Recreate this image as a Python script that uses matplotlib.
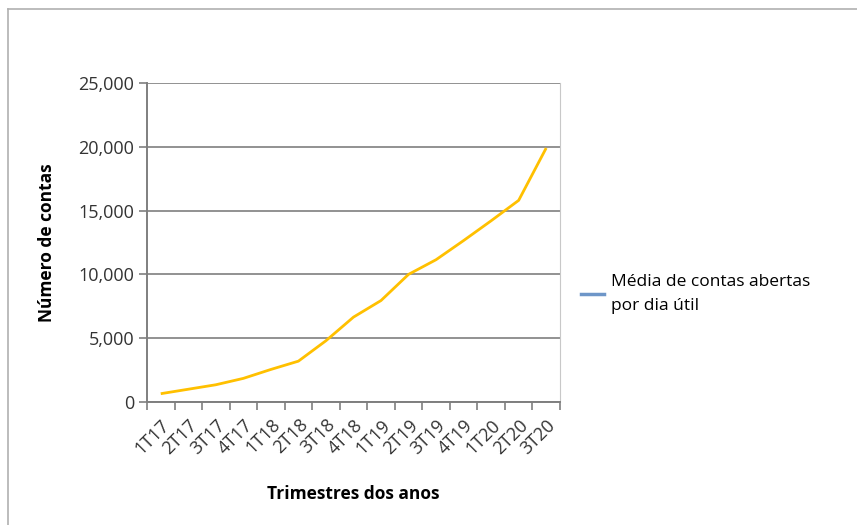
import numpy as np
import matplotlib.pyplot as plt
from matplotlib.lines import Line2D

# data
quarters = ["1T17", "2T17", "3T17", "4T17", "1T18", "2T18", "3T18", "4T18",
            "1T19", "2T19", "3T19", "4T19", "1T20", "2T20", "3T20"]
accounts = [650, 1000, 1350, 1850, 2550, 3200, 4800, 6650,
            7950, 10000, 11150, 12650, 14200, 15800, 19900]
y_ticks = [0, 5000, 10000, 15000, 20000, 25000]

LINE_COLOR = "#FFC000"
LEGEND_COLOR = "#6E96C8"
GRID_COLOR = "#7f7f7f"
FONT = ["Open Sans", "DejaVu Sans"]

plt.rcParams['font.family'] = FONT

fig = plt.figure(figsize=(8.57, 5.25), dpi=100)
ax = fig.add_axes([0.1715, 0.2343, 0.4819, 0.6077])

x = np.arange(len(quarters))
ax.plot(x, accounts, color=LINE_COLOR, linewidth=2.0, solid_capstyle='butt')

ax.set_xlim(-0.5, len(quarters) - 0.5)
ax.set_ylim(0, 25000)
ax.set_yticks(y_ticks)
ax.set_yticklabels([f"{v:,}" for v in y_ticks], fontsize=13, color="#333333")
ax.yaxis.grid(True, color=GRID_COLOR, linewidth=1.2)
ax.set_axisbelow(True)

# category labels at centres, tick marks at boundaries
ax.set_xticks(x)
ax.set_xticklabels(quarters, rotation=45, ha='right', rotation_mode='anchor',
                   fontsize=13, color="#333333")
ax.tick_params(axis='x', which='major', length=0, pad=10)
ax.set_xticks(np.arange(-0.5, len(quarters)), minor=True)
ax.tick_params(axis='x', which='minor', length=6, width=1.2, color=GRID_COLOR)
ax.tick_params(axis='y', length=6, width=1.2, color=GRID_COLOR, pad=3)

for side in ['left', 'bottom']:
    ax.spines[side].set_color(GRID_COLOR)
    ax.spines[side].set_linewidth(1.4)
ax.spines['top'].set_visible(False)
ax.spines['right'].set_color("#c8c8c8")

ax.set_ylabel("Número de contas", fontsize=12.5, fontweight='bold', labelpad=16)
ax.set_xlabel("Trimestres dos anos", fontsize=12.5, fontweight='bold', labelpad=20)

handle = Line2D([], [], color=LEGEND_COLOR, linewidth=2.5)
fig.legend([handle], ["Média de contas abertas\npor dia útil"],
           loc='center left', bbox_to_anchor=(0.66, 0.44), frameon=False,
           fontsize=12.5, handlelength=1.3, handletextpad=0.4)
for txt in fig.legends[0].get_texts():
    txt.set_linespacing(1.75)

# outer chart frame (top and left edges visible)
fig.add_artist(Line2D([0.009, 0.009], [0, 0.983], transform=fig.transFigure,
                      color="#b0b0b0", linewidth=1.2))
fig.add_artist(Line2D([0.009, 1], [0.983, 0.983], transform=fig.transFigure,
                      color="#b0b0b0", linewidth=1.2))

fig.savefig("out.png", dpi=100)
